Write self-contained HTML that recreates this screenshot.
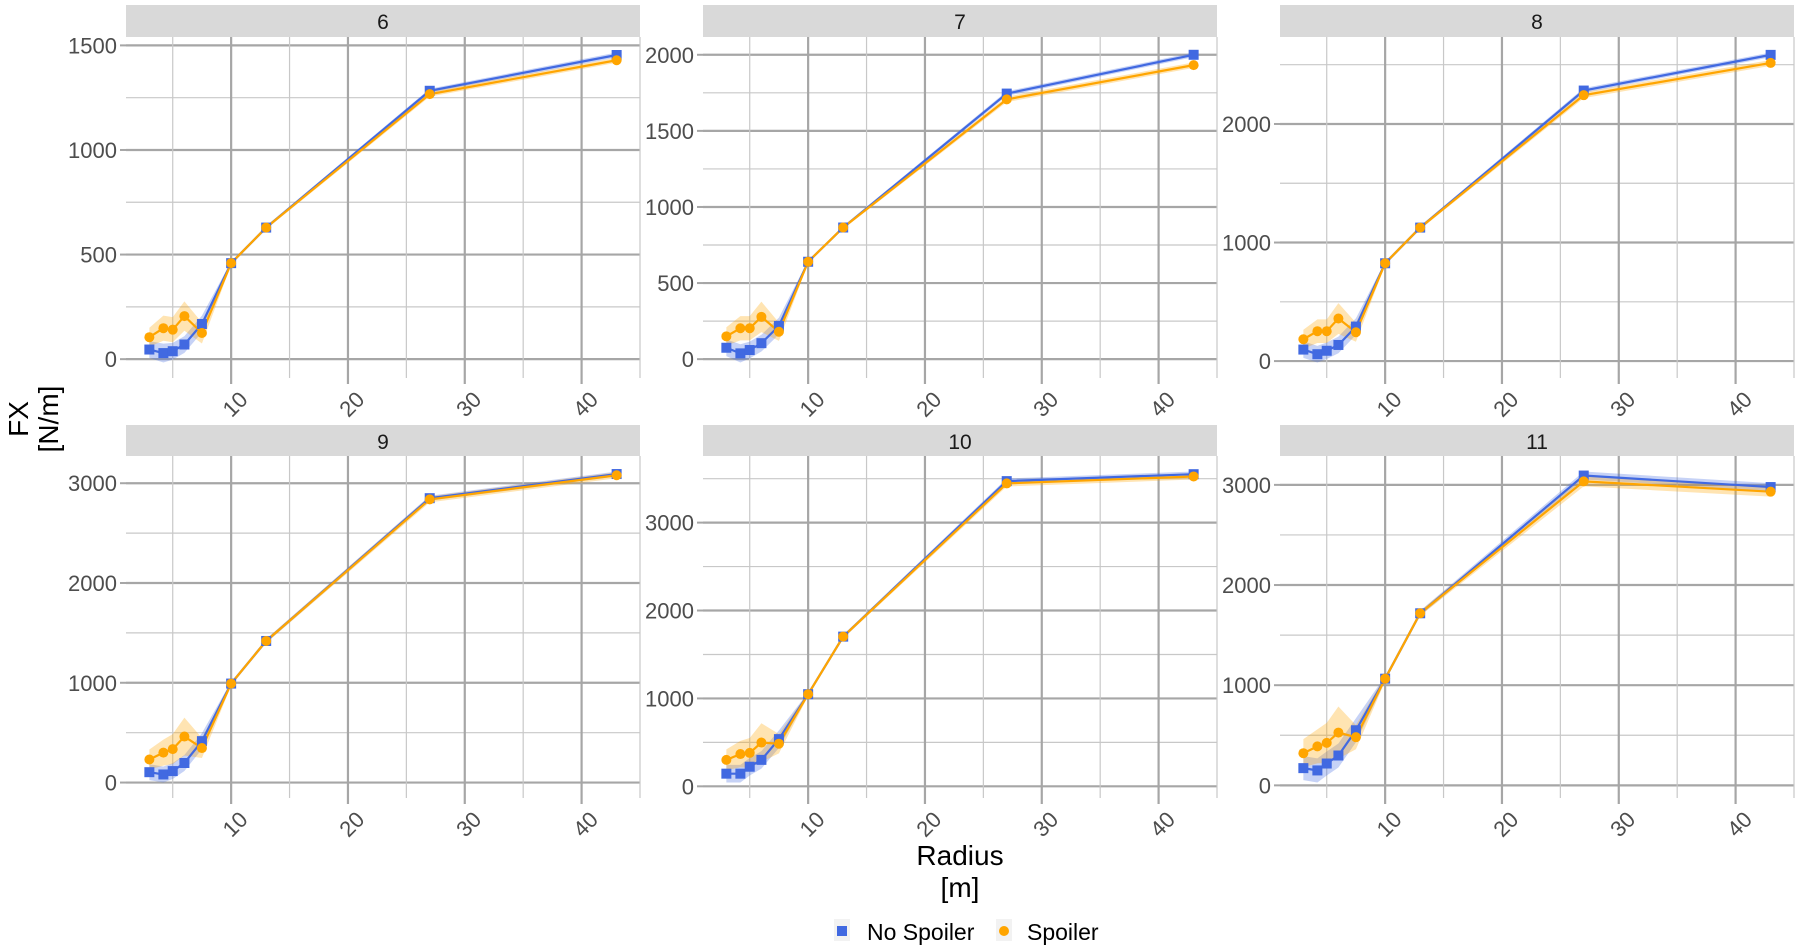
<!DOCTYPE html>
<html><head><meta charset="utf-8">
<style>
body{margin:0;background:#fff;}
svg{display:block;font-family:"Liberation Sans",sans-serif;}
</style></head>
<body>
<svg id="chart" width="1800" height="952" viewBox="0 0 1800 952"></svg>
<script>
const radii = [3, 4.2, 5, 6, 7.5, 10, 13, 27, 43];
const panelLabels = ["6", "7", "8", "9", "10", "11"];
const noSpoiler = [
  [46, 29, 38, 70, 168, 459, 629, 1283, 1454],
  [75, 38, 60, 105, 218, 640, 865, 1745, 2000],
  [97, 58, 87, 136, 291, 825, 1126, 2282, 2583],
  [104, 81, 115, 196, 415, 992, 1419, 2850, 3092],
  [144, 144, 223, 301, 537, 1048, 1703, 3472, 3551],
  [172, 149, 218, 298, 550, 1065, 1718, 3093, 2978]
];
const spoiler = [
  [105, 148, 141, 206, 125, 459, 629, 1267, 1429],
  [150, 203, 203, 278, 180, 640, 865, 1707, 1932],
  [184, 252, 252, 359, 243, 825, 1126, 2243, 2515],
  [231, 300, 335, 461, 346, 992, 1419, 2838, 3080],
  [301, 367, 380, 498, 485, 1048, 1703, 3446, 3525],
  [321, 389, 424, 527, 481, 1065, 1718, 3035, 2932]
];
const noSpoilerSd = [
  [40, 45, 40, 40, 40, 8, 8, 10, 12],
  [55, 60, 55, 55, 55, 10, 10, 15, 15],
  [70, 70, 70, 70, 70, 15, 15, 20, 20],
  [80, 80, 80, 80, 80, 20, 20, 25, 25],
  [100, 100, 100, 100, 100, 20, 20, 30, 30],
  [120, 120, 120, 120, 120, 25, 25, 40, 40]
];
const spoilerSd = [
  [45, 60, 60, 70, 50, 8, 8, 12, 12],
  [60, 80, 80, 100, 60, 10, 10, 18, 18],
  [80, 100, 100, 130, 80, 15, 15, 25, 25],
  [100, 130, 150, 190, 100, 20, 20, 30, 30],
  [120, 150, 170, 220, 110, 20, 20, 35, 35],
  [140, 170, 200, 260, 120, 25, 25, 50, 50]
];
const xTicks = [10, 20, 30, 40];
const xMinor = [5, 15, 25, 35, 45];

const NS = "http://www.w3.org/2000/svg";
const svg = document.getElementById("chart");
function mk(tag, attrs, parent) {
  const e = document.createElementNS(NS, tag);
  for (const k in attrs) e.setAttribute(k, attrs[k]);
  (parent || svg).appendChild(e);
  return e;
}
const BLUE = "#4169E1", ORANGE = "#FFA500";
const colX = [126, 703, 1280], W = 514;
const rows = [{strip: 5, top: 37, bottom: 378}, {strip: 425, top: 456, bottom: 798}];
const xMin = 1, xMax = 45;

function niceStep(range) {
  const raw = range / 3;
  const p = Math.pow(10, Math.floor(Math.log10(raw)));
  const f = raw / p;
  return (f < 1.5 ? 1 : f < 3.5 ? 2.5 : f < 7.5 ? 5 : 10) * p;
}

panelLabels.forEach((lab, i) => {
  const L = colX[i % 3], R = L + W;
  const row = rows[Math.floor(i / 3)];
  const T = row.top, B = row.bottom;
  const g = mk("g", {});
  
  
  const lo = radii.map((r, j) => Math.min(noSpoiler[i][j] - noSpoilerSd[i][j], spoiler[i][j] - spoilerSd[i][j]));
  const hi = radii.map((r, j) => Math.max(noSpoiler[i][j] + noSpoilerSd[i][j], spoiler[i][j] + spoilerSd[i][j]));
  let yMin = Math.min(...lo), yMax = Math.max(...hi);
  const pad = (yMax - yMin) * 0.05; yMin -= pad; yMax += pad;
  const xs = v => L + (v - xMin) / (xMax - xMin) * W;
  const ys = v => B - (v - yMin) / (yMax - yMin) * (B - T);

  const strip = mk("rect", {x: L, y: row.strip, width: W, height: T - row.strip, fill: "#d9d9d9"}, g);
  
  
  const st = mk("text", {x: L + W / 2, y: row.strip + 24, "text-anchor": "middle", "font-size": 21, fill: "#1a1a1a"}, g);
  st.textContent = lab;
  
  

  let step = niceStep(yMax - yMin);
  if (step === 250) step = 500;
  for (let v = 0; v <= yMax; v += step / 2) {
    if (v < yMin) continue;
    const major = Math.abs(v / step - Math.round(v / step)) < 1e-6;
    const gl = mk("line", {x1: L, x2: R, y1: ys(v), y2: ys(v), stroke: major ? "#a6a6a6" : "#c8c8c8", "stroke-width": major ? 2.2 : 1.2}, g);
    
    
    if (major) {
      mk("line", {x1: L - 6, x2: L, y1: ys(v), y2: ys(v), stroke: "#a6a6a6", "stroke-width": 2}, g);
      const t = mk("text", {x: L - 9, y: ys(v) + 8, "text-anchor": "end", "font-size": 22, fill: "#4d4d4d"}, g);
      t.textContent = v;
      
      
    }
  }
  xMinor.forEach(v => {
    const gl = mk("line", {x1: xs(v), x2: xs(v), y1: T, y2: B, stroke: "#c8c8c8", "stroke-width": 1.2}, g);
    
    
  });
  xTicks.forEach(v => {
    const gl = mk("line", {x1: xs(v), x2: xs(v), y1: T, y2: B + 6, stroke: "#a6a6a6", "stroke-width": 2.2}, g);
    
    
    const tx = xs(v) + 7, ty = B + 12;
    const t = mk("text", {x: tx, y: ty, "text-anchor": "end", "font-size": 22, fill: "#4d4d4d", transform: `rotate(-45 ${tx} ${ty})`, dy: "0.7em"}, g);
    t.textContent = v;
    
    
  });

  [[noSpoiler[i], noSpoilerSd[i], BLUE, 'ribbon-no-spoiler'], [spoiler[i], spoilerSd[i], ORANGE, 'ribbon-spoiler']].forEach(([vals, sd, col, nm]) => {
    let pts = radii.map((r, j) => xs(r) + "," + ys(vals[j] + sd[j]));
    pts = pts.concat(radii.map((r, j) => xs(r) + "," + ys(vals[j] - sd[j])).reverse());
    const p = mk("polygon", {points: pts.join(" "), fill: col, "fill-opacity": 0.3}, g);
    
    
  });
  [[noSpoiler[i], BLUE, 'no-spoiler'], [spoiler[i], ORANGE, 'spoiler']].forEach(([vals, col, nm]) => {
    const l = mk("polyline", {points: radii.map((r, j) => xs(r) + "," + ys(vals[j])).join(" "), fill: "none", stroke: col, "stroke-width": 2.2}, g);
    
    
  });
  radii.forEach((r, j) => {
    const s = mk("rect", {x: xs(r) - 5, y: ys(noSpoiler[i][j]) - 5, width: 10, height: 10, fill: BLUE}, g);
    
    
  });
  radii.forEach((r, j) => {
    const c = mk("circle", {cx: xs(r), cy: ys(spoiler[i][j]), r: 5, fill: ORANGE}, g);
    
    
  });
});

const yt = mk("text", {transform: "translate(0,419) rotate(-90)", "text-anchor": "middle", "font-size": 28, fill: "#000"});


const ya = mk("tspan", {x: 0, y: 28}, yt); ya.textContent = "FX";
const yb = mk("tspan", {x: 0, y: 58}, yt); yb.textContent = "[N/m]";
const xt = mk("text", {"text-anchor": "middle", "font-size": 28, fill: "#000"});


const xa = mk("tspan", {x: 960, y: 865}, xt); xa.textContent = "Radius";
const xb = mk("tspan", {x: 960, y: 897}, xt); xb.textContent = "[m]";

const lg = mk("g", {});


mk("rect", {x: 834, y: 919, width: 16, height: 22, fill: "#f2f2f2"}, lg);
mk("rect", {x: 837, y: 926, width: 10, height: 10, fill: BLUE}, lg);
const l1 = mk("text", {x: 867, y: 940, "font-size": 23, fill: "#000"}, lg); l1.textContent = "No Spoiler";


mk("rect", {x: 996, y: 919, width: 16, height: 22, fill: "#f2f2f2"}, lg);
mk("circle", {cx: 1004, cy: 931, r: 5, fill: ORANGE}, lg);
const l2 = mk("text", {x: 1027, y: 940, "font-size": 23, fill: "#000"}, lg); l2.textContent = "Spoiler";


</script>
</body></html>
